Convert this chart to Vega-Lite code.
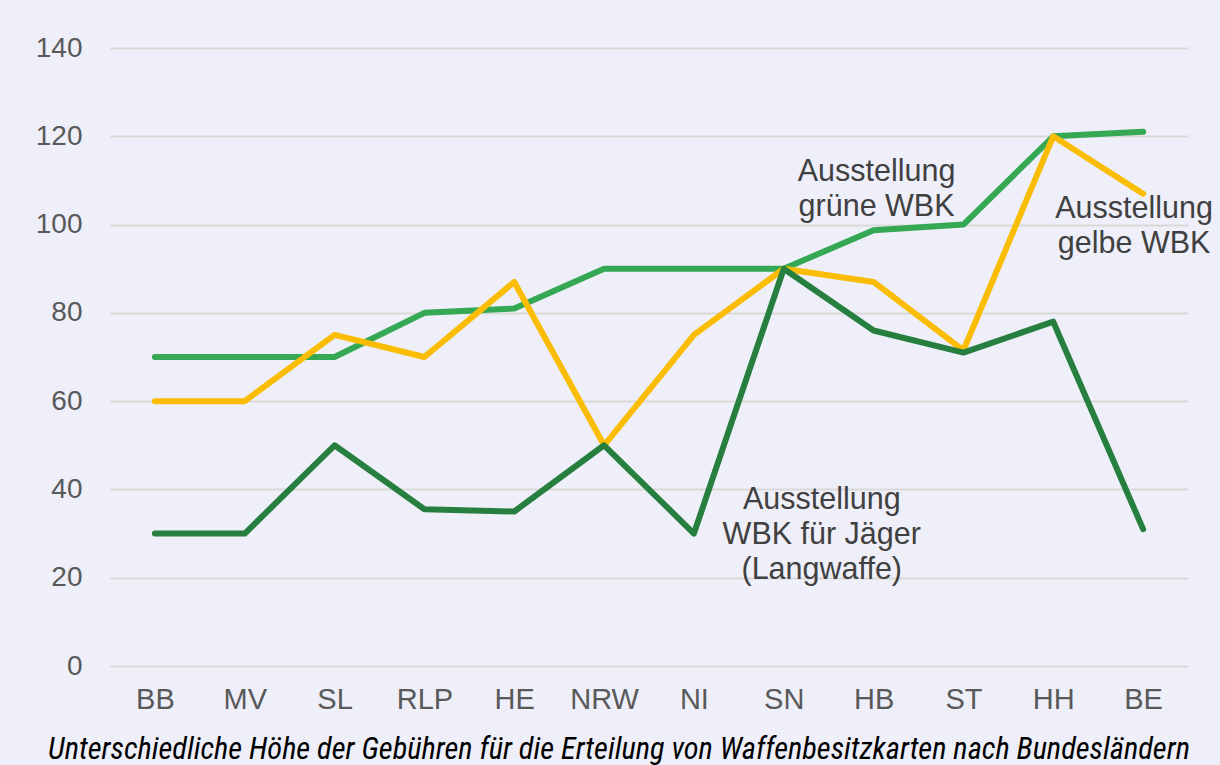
{
  "$schema": "https://vega.github.io/schema/vega-lite/v6.json",
  "width": 1078,
  "height": 618,
  "autosize": {"type": "none"},
  "padding": {"left": 110, "top": 48, "right": 32, "bottom": 99},
  "background": "#eeeff9",
  "config": {
    "view": {"stroke": null},
    "font": "Liberation Sans"
  },
  "title": {
    "text": "Unterschiedliche Höhe der Gebühren für die Erteilung von Waffenbesitzkarten nach Bundesländern",
    "orient": "bottom",
    "anchor": "middle",
    "font": "Roboto Condensed, Liberation Sans Narrow, DejaVu Sans Condensed, sans-serif",
    "fontStyle": "italic",
    "fontWeight": "normal",
    "fontSize": 30.4,
    "color": "#000000",
    "offset": 21,
    "dx": -30
  },
  "datasets": {
    "fees": [
      {"land": "BB", "serie": "grün", "wert": 70},
      {"land": "MV", "serie": "grün", "wert": 70},
      {"land": "SL", "serie": "grün", "wert": 70},
      {"land": "RLP", "serie": "grün", "wert": 80},
      {"land": "HE", "serie": "grün", "wert": 81},
      {"land": "NRW", "serie": "grün", "wert": 90},
      {"land": "NI", "serie": "grün", "wert": 90},
      {"land": "SN", "serie": "grün", "wert": 90},
      {"land": "HB", "serie": "grün", "wert": 98.7},
      {"land": "ST", "serie": "grün", "wert": 100},
      {"land": "HH", "serie": "grün", "wert": 120},
      {"land": "BE", "serie": "grün", "wert": 121},
      {"land": "BB", "serie": "gelb", "wert": 60},
      {"land": "MV", "serie": "gelb", "wert": 60},
      {"land": "SL", "serie": "gelb", "wert": 75},
      {"land": "RLP", "serie": "gelb", "wert": 70},
      {"land": "HE", "serie": "gelb", "wert": 87},
      {"land": "NRW", "serie": "gelb", "wert": 50},
      {"land": "NI", "serie": "gelb", "wert": 75},
      {"land": "SN", "serie": "gelb", "wert": 90},
      {"land": "HB", "serie": "gelb", "wert": 87},
      {"land": "ST", "serie": "gelb", "wert": 71.5},
      {"land": "HH", "serie": "gelb", "wert": 120},
      {"land": "BE", "serie": "gelb", "wert": 107},
      {"land": "BB", "serie": "jaeger", "wert": 30},
      {"land": "MV", "serie": "jaeger", "wert": 30},
      {"land": "SL", "serie": "jaeger", "wert": 50},
      {"land": "RLP", "serie": "jaeger", "wert": 35.5},
      {"land": "HE", "serie": "jaeger", "wert": 35},
      {"land": "NRW", "serie": "jaeger", "wert": 50},
      {"land": "NI", "serie": "jaeger", "wert": 30},
      {"land": "SN", "serie": "jaeger", "wert": 90},
      {"land": "HB", "serie": "jaeger", "wert": 76},
      {"land": "ST", "serie": "jaeger", "wert": 71},
      {"land": "HH", "serie": "jaeger", "wert": 78},
      {"land": "BE", "serie": "jaeger", "wert": 31}
    ],
    "labels": [
      {"land": "HB", "wert": 112, "label": "Ausstellung|grüne WBK", "key": "g"},
      {"land": "BE", "wert": 103.6, "label": "Ausstellung|gelbe WBK", "key": "y"},
      {"land": "SN", "wert": 37.5, "label": "Ausstellung|WBK für Jäger|(Langwaffe)", "key": "j"}
    ]
  },
  "encoding": {
    "x": {
      "field": "land",
      "type": "nominal",
      "sort": ["BB", "MV", "SL", "RLP", "HE", "NRW", "NI", "SN", "HB", "ST", "HH", "BE"],
      "scale": {"type": "point", "padding": 0.5},
      "axis": {
        "title": null,
        "domain": false,
        "ticks": false,
        "grid": false,
        "labelAngle": 0,
        "labelFontSize": 29,
        "labelColor": "#595959",
        "labelPadding": 19
      }
    },
    "y": {
      "field": "wert",
      "type": "quantitative",
      "scale": {"domain": [0, 140], "nice": false},
      "axis": {
        "title": null,
        "domain": false,
        "ticks": false,
        "values": [0, 20, 40, 60, 80, 100, 120, 140],
        "gridColor": "#d9d9d9",
        "gridWidth": 2,
        "labelFontSize": 28,
        "labelColor": "#595959",
        "labelPadding": 28
      }
    }
  },
  "layer": [
    {
      "data": {"name": "fees"},
      "mark": {"type": "line", "strokeWidth": 6, "strokeCap": "round", "strokeJoin": "round"},
      "encoding": {
        "color": {
          "field": "serie",
          "type": "nominal",
          "scale": {"domain": ["grün", "gelb", "jaeger"], "range": ["#34a853", "#fbbc04", "#267f3f"]},
          "legend": null
        }
      }
    },
    {
      "data": {"name": "labels"},
      "transform": [{"filter": "datum.key == 'g'"}],
      "mark": {"type": "text", "fontSize": 30.5, "color": "#404040", "lineBreak": "|", "lineHeight": 35, "align": "center", "baseline": "middle", "dx": 3},
      "encoding": {"text": {"field": "label"}}
    },
    {
      "data": {"name": "labels"},
      "transform": [{"filter": "datum.key == 'y'"}],
      "mark": {"type": "text", "fontSize": 30.5, "color": "#404040", "lineBreak": "|", "lineHeight": 35, "align": "center", "baseline": "middle", "dx": -9},
      "encoding": {"text": {"field": "label"}}
    },
    {
      "data": {"name": "labels"},
      "transform": [{"filter": "datum.key == 'j'"}],
      "mark": {"type": "text", "fontSize": 30.5, "color": "#404040", "lineBreak": "|", "lineHeight": 35, "align": "center", "baseline": "middle", "dx": 38},
      "encoding": {"text": {"field": "label"}}
    }
  ]
}
